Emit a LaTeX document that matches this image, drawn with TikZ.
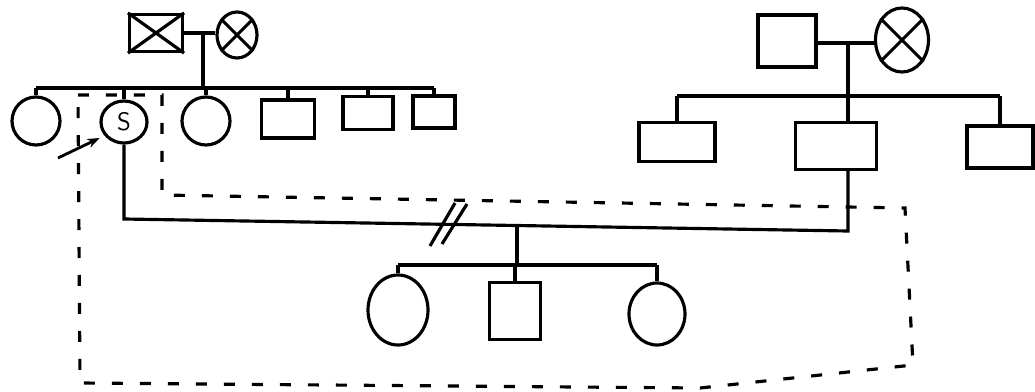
\documentclass[tikz,border=0pt]{standalone}
\usepackage{tikz}
\usetikzlibrary{shapes.geometric, arrows.meta, positioning}

\begin{document}
\begin{tikzpicture}[
    x=0.02cm, y=-0.02cm,
    line width=1.8pt,
    male/.style 2 args={draw, rectangle, inner sep=0pt, minimum width=#1*0.02cm, minimum height=#2*0.02cm},
    female/.style 2 args={draw, ellipse, inner sep=0pt, minimum width=#1*0.02cm, minimum height=#2*0.02cm},
    dashline/.style={draw, line width=1.8pt, dash pattern=on 0.22cm off 0.34cm},
    arrow/.style={-{Stealth[length=7pt]}, line width=1.6pt, shorten >=3pt}
]
\useasboundingbox (0,0) rectangle (1035,392);

% grandparents
\node (gfL) [male={53}{37}] at (156,33) {};
\node (gmL) [female={40}{46}] at (237,35) {};
\node (gfR) [male={58}{52}] at (787,41) {};
\node (gmR) [female={53}{64}] at (902,40) {};

% first generation, left side
\node (sisA) [female={48}{48}] at (36,121) {};
\node (self) [female={46}{42}, font=\Large\sffamily] at (124,122) {S};
\node (sisB) [female={48}{48}] at (206,121) {};
\node (broA) [male={53}{38}] at (288,119) {};
\node (broB) [male={50}{33}] at (368,113) {};
\node (broC) [male={42}{32}] at (434,112) {};

% first generation, right side
\node (uncA) [male={76}{39}] at (677,142) {};
\node (spouse) [male={81}{47}] at (836,146) {};
\node (uncB) [male={66}{42}] at (1000,147) {};

% offspring
\node (kidA) [female={60}{70}] at (398,310) {};
\node (kidB) [male={51}{57}] at (515,311) {};
\node (kidC) [female={56}{62}] at (657,314) {};

\coordinate (mateL) at (203,33);
\coordinate (sibL) at (203,88);
\coordinate (mateR) at (848,43);
\coordinate (sibR) at (848,96);
\coordinate (mateS) at (122,219);
\coordinate (mateP) at (848,231);
\coordinate (mateK) at (517,225.5);
\coordinate (sibK) at (517,265);
\coordinate (pointer) at (58,158);

% affected marks
\draw (gfL.north west) -- (gfL.south east) (gfL.north east) -- (gfL.south west);
\draw (gmL.45) -- (gmL.225) (gmL.135) -- (gmL.315);
\draw (gmR.45) -- (gmR.225) (gmR.135) -- (gmR.315);

% left family
\draw (gfL.east) -- (gmL.west |- gfL.east);
\draw (mateL) -- (sibL);
\draw (sisA.north |- sibL) -- (broC.north |- sibL);
\foreach \kid in {sisA, self, sisB, broA, broB, broC}
    \draw (\kid.north) -- (\kid.north |- sibL);

% right family
\draw (gfR.east |- mateR) -- (gmR.west |- mateR);
\draw (mateR) -- (sibR);
\draw (uncA.north |- sibR) -- (uncB.north |- sibR);
\foreach \kid in {uncA, uncB}
    \draw (\kid.north) -- (\kid.north |- sibR);
\draw (sibR) -- (mateR |- spouse.north);

% marriage and children
\draw (self.south) -- (self.south |- mateS) -- (mateP) -- (mateR |- spouse.south);
\draw (430,246) -- (455,203) (442,244) -- (467,204);
\draw (mateK) -- (sibK);
\draw (kidA.north |- sibK) -- (kidC.north |- sibK);
\foreach \kid in {kidA, kidB, kidC}
    \draw (\kid.north) -- (\kid.north |- sibK);

\draw[arrow] (pointer) -- (self.215);

% dashed outline
\draw[dashline] (78,95) -- (162,95) -- (162,195) -- (905,208) -- (913,365) -- (700,388) -- (80,383) -- cycle;

\end{tikzpicture}
\end{document}
